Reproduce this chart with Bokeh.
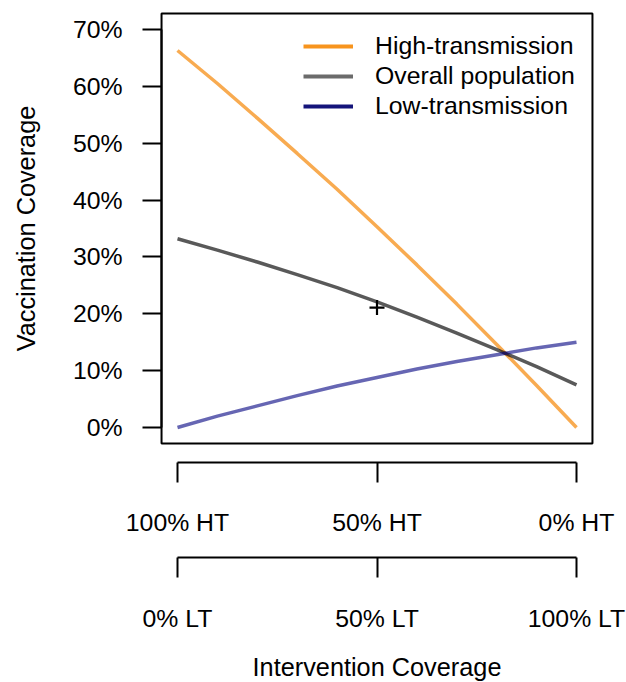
from bokeh.plotting import figure
from bokeh.models import (Range1d, LinearAxis, FixedTicker, Legend, LegendItem,
                          BoxAnnotation, NumeralTickFormatter)
from bokeh.embed import file_html
from bokeh.resources import INLINE

# ---- data ----
intervention = [0.0, 0.1, 0.2, 0.3, 0.4, 0.5, 0.6, 0.7, 0.8, 0.9, 1.0]
high_transmission = [0.663, 0.605, 0.544, 0.482, 0.419, 0.353, 0.286, 0.217, 0.146, 0.074, 0.000]
overall_population = [0.332, 0.312, 0.291, 0.269, 0.246, 0.221, 0.194, 0.166, 0.137, 0.107, 0.075]
low_transmission = [0.000, 0.020, 0.038, 0.056, 0.073, 0.088, 0.103, 0.116, 0.128, 0.140, 0.150]
marker_x = [0.5]
marker_y = [0.211]

y_ticks = [0.0, 0.1, 0.2, 0.3, 0.4, 0.5, 0.6, 0.7]
x_ticks = [0, 0.5, 1]
ht_labels = ["100% HT", "50% HT", "0% HT"]
lt_labels = ["0% LT", "50% LT", "100% LT"]
series_names = ["High-transmission", "Overall population", "Low-transmission"]

# ---- layout constants ----
FONT = "Liberation Sans"
FS = "24.8px"
TITLE_FS = "25.3px"
W, H = 626, 682
X0_PX, PX_PER_X = 177, 399      # pixel of x=0, pixels per unit x
Y0_PX, PX_PER_Y = 427, 568.6    # pixel of y=0, pixels per unit y
Y_LIM = (0.0, 0.70)
Y_PAD = 0.04 * (Y_LIM[1] - Y_LIM[0])
X_PAD = 0.04
AX1_LOC = -Y_PAD - 19 / PX_PER_Y
AX2_LOC = -(557 - Y0_PX) / PX_PER_Y
NAN = float("nan")

p = figure(width=W, height=H, output_backend="svg", toolbar_location=None,
           x_axis_type=None, y_axis_type=None,
           x_range=Range1d(-X0_PX / PX_PER_X, (W - X0_PX) / PX_PER_X),
           y_range=Range1d(-(H - Y0_PX) / PX_PER_Y, Y0_PX / PX_PER_Y),
           min_border_left=0, min_border_right=0, min_border_top=0, min_border_bottom=0)
p.outline_line_color = None
p.xgrid.visible = False
p.ygrid.visible = False
p.background_fill_color = "white"
p.border_fill_color = "white"

# plot box
p.add_layout(BoxAnnotation(left=-X_PAD, right=1 + X_PAD, bottom=Y_LIM[0] - Y_PAD, top=Y_LIM[1] + Y_PAD,
                           fill_color=None, fill_alpha=0,
                           line_color="black", line_alpha=1, line_width=2))

# data lines
p.line(intervention, high_transmission, line_color="#F58B0E", line_alpha=0.72, line_width=3.5)
p.line(intervention, overall_population, line_color="black", line_alpha=0.65, line_width=3.5)
p.line(intervention, low_transmission, line_color="#000080", line_alpha=0.6, line_width=3.5)
p.scatter(marker_x, marker_y, marker="cross", size=15, line_color="black", line_width=2.2)

# legend-only renderers (full colour, no visible data)
leg_colors = ["#F7941D", "#6B6B6B", "#14147A"]
leg_rs = [p.line(x=[NAN], y=[NAN], line_color=c, line_width=4) for c in leg_colors]
legend = Legend(items=[LegendItem(label=n, renderers=[r]) for n, r in zip(series_names, leg_rs)],
                location=(303, 562), border_line_color=None, background_fill_alpha=0,
                label_text_font=FONT, label_text_font_size=FS, label_text_color="black",
                label_standoff=22, glyph_width=50, glyph_height=20, label_height=20,
                spacing=2, padding=0, margin=0)
p.add_layout(legend)

# y axis
yax = LinearAxis(ticker=FixedTicker(ticks=y_ticks), formatter=NumeralTickFormatter(format="0%"),
                 bounds=Y_LIM, fixed_location=-X_PAD, axis_label="Vaccination Coverage",
                 major_tick_out=19, major_tick_in=0, minor_tick_out=0, minor_tick_in=0,
                 major_label_standoff=20, axis_line_width=2, major_tick_line_width=2,
                 major_label_text_font=FONT, major_label_text_font_size=FS,
                 major_label_text_color="black",
                 axis_label_text_font=FONT, axis_label_text_font_size=TITLE_FS,
                 axis_label_text_font_style="normal", axis_label_text_color="black",
                 axis_label_standoff=30)
p.add_layout(yax, "left")

def x_axis(labels, loc, title=None):
    ax = LinearAxis(ticker=FixedTicker(ticks=x_ticks),
                    major_label_overrides=dict(zip(x_ticks, labels)),
                    bounds=(0, 1), fixed_location=loc,
                    major_tick_out=20, major_tick_in=0, minor_tick_out=0, minor_tick_in=0,
                    major_label_standoff=27, axis_line_width=2, major_tick_line_width=2,
                    major_label_text_font=FONT, major_label_text_font_size=FS,
                    major_label_text_color="black")
    if title:
        ax.axis_label = title
        ax.axis_label_text_font = FONT
        ax.axis_label_text_font_size = TITLE_FS
        ax.axis_label_text_font_style = "normal"
        ax.axis_label_text_color = "black"
        ax.axis_label_standoff = 18
    return ax

p.add_layout(x_axis(ht_labels, AX1_LOC), "below")
p.add_layout(x_axis(lt_labels, AX2_LOC, "Intervention Coverage"), "below")

open("out.html", "w").write(file_html(p, INLINE))
